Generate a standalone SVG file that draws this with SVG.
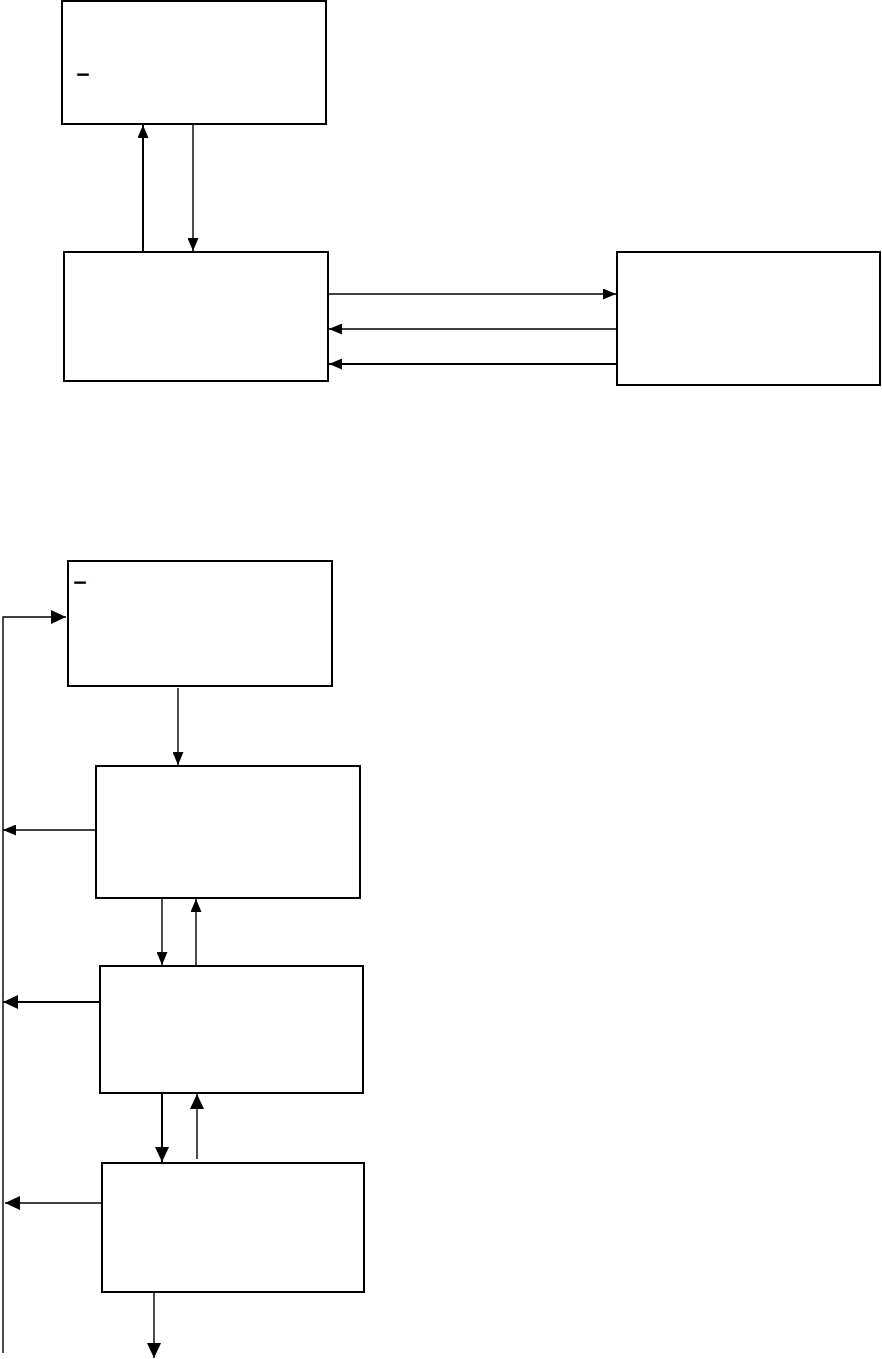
<svg xmlns="http://www.w3.org/2000/svg" width="882" height="1359" viewBox="0 0 882 1359">
  <style>
    .box { fill: #ffffff; stroke: #000000; stroke-width: 2; }
    .conn { fill: none; stroke: #000000; stroke-width: 1.4; }
    .thick { stroke-width: 2; }
    .mark { font-family: "Liberation Sans", Arial, sans-serif; font-size: 18px; fill: #000000; stroke: #000000; stroke-width: 1.2; }
  </style>
  <defs>
    <marker id="arr" markerUnits="userSpaceOnUse" markerWidth="14" markerHeight="11" refX="13" refY="5.5" orient="auto">
      <path d="M0,0 L13,5.5 L0,11 Z" fill="#000000"/>
    </marker>
    <marker id="arrb" markerUnits="userSpaceOnUse" markerWidth="16" markerHeight="14" refX="15" refY="7" orient="auto">
      <path d="M0,0 L15,7 L0,14 Z" fill="#000000"/>
    </marker>
  </defs>
  <rect width="882" height="1359" fill="#ffffff"/>

  <g id="node-a">
    <rect class="box" x="62" y="1" width="264" height="123"/>
    <text class="mark" x="78" y="71">_</text>
  </g>
  <g id="node-b">
    <rect class="box" x="64" y="252" width="264" height="129"/>
  </g>
  <g id="node-c">
    <rect class="box" x="617" y="252" width="263" height="133"/>
  </g>
  <g id="node-d">
    <rect class="box" x="68" y="561" width="264" height="125"/>
    <text class="mark" x="75" y="579">_</text>
  </g>
  <g id="node-e">
    <rect class="box" x="96" y="766" width="264" height="132"/>
  </g>
  <g id="node-f">
    <rect class="box" x="100" y="966" width="263" height="127"/>
  </g>
  <g id="node-g">
    <rect class="box" x="102" y="1163" width="262" height="129"/>
  </g>

  <g id="connectors">
    <line class="conn thick" x1="143" y1="251" x2="143" y2="125" marker-end="url(#arr)"/>
    <line class="conn" x1="193" y1="125" x2="193" y2="251" marker-end="url(#arr)"/>
    <line class="conn" x1="329" y1="294" x2="616" y2="294" marker-end="url(#arr)"/>
    <line class="conn" x1="617" y1="329" x2="329" y2="329" marker-end="url(#arr)"/>
    <line class="conn thick" x1="617" y1="364" x2="329" y2="364" marker-end="url(#arr)"/>

    <polyline class="conn" points="3,1353 3,617 66,617" marker-end="url(#arrb)"/>
    <line class="conn" x1="178" y1="688" x2="178" y2="765" marker-end="url(#arr)"/>
    <line class="conn" x1="96" y1="830" x2="3" y2="830" marker-end="url(#arr)"/>
    <line class="conn" x1="162" y1="899" x2="162" y2="965" marker-end="url(#arr)"/>
    <line class="conn" x1="196" y1="966" x2="196" y2="899" marker-end="url(#arr)"/>
    <line class="conn thick" x1="100" y1="1002" x2="3" y2="1002" marker-end="url(#arrb)"/>
    <line class="conn thick" x1="162" y1="1093" x2="162" y2="1162" marker-end="url(#arrb)"/>
    <line class="conn" x1="197" y1="1159" x2="197" y2="1094" marker-end="url(#arrb)"/>
    <line class="conn" x1="102" y1="1203" x2="5" y2="1203" marker-end="url(#arrb)"/>
    <line class="conn" x1="154" y1="1293" x2="154" y2="1358" marker-end="url(#arrb)"/>
  </g>
</svg>
